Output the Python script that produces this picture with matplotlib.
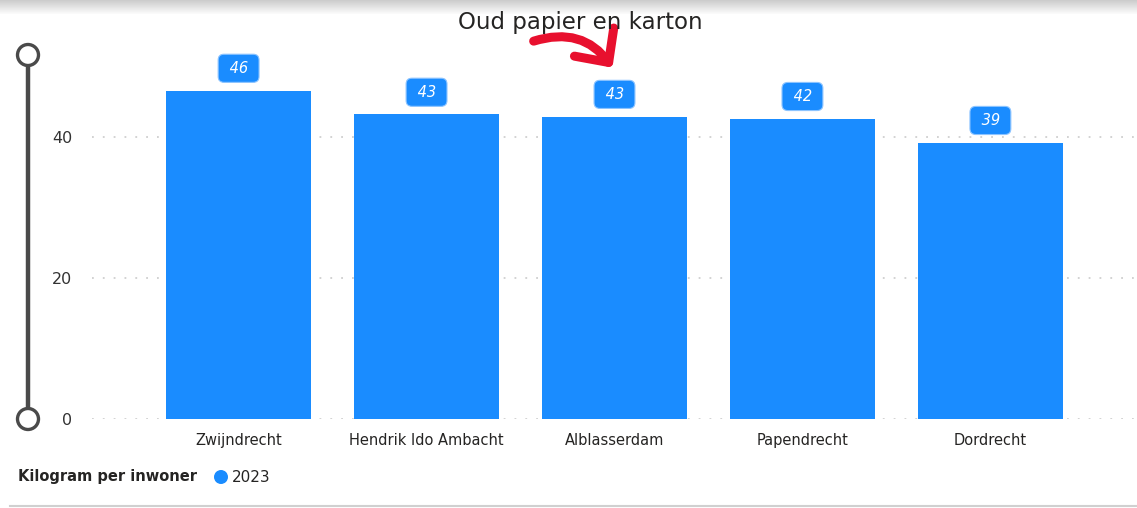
import matplotlib
matplotlib.use("Agg")
import matplotlib.pyplot as plt
from matplotlib.patches import FancyArrowPatch, Circle, Rectangle
from matplotlib.lines import Line2D

categories = ["Zwijndrecht", "Hendrik Ido Ambacht", "Alblasserdam", "Papendrecht", "Dordrecht"]
values = [46.6, 43.2, 42.9, 42.6, 39.2]
value_labels = ["46", "43", "43", "42", "39"]
yticks = [0, 20, 40]
title = "Oud papier en karton"
legend_title = "Kilogram per inwoner"
series_name = "2023"

BLUE = "#1a8cff"
W, H = 1137, 508
plt.rcParams['font.family'] = ['DejaVu Sans']

fig = plt.figure(figsize=(W / 100, H / 100), dpi=100)
fig.patch.set_facecolor("white")

def fx(x):
    return x / W

def fy(y):
    return 1 - y / H

# top shadow band
for i in range(14):
    g = 0.80 + 0.014 * i
    fig.add_artist(Rectangle((0, fy(i + 1)), 1, 1 / H, transform=fig.transFigure,
                             facecolor=(g, g, g), edgecolor="none", zorder=0))
fig.add_artist(Line2D([fx(10), 1], [fy(506), fy(506)], transform=fig.transFigure,
                      color="#d0d0d0", lw=1.5))

ax = fig.add_axes([fx(92), fy(419), fx(1045), (419 - 59.5) / H])
x = list(range(len(categories)))
ax.bar(x, values, width=0.77, color=BLUE, zorder=2)
ax.set_xlim(-0.78, 4.78)
ax.set_ylim(0, 51)
ax.set_yticks(yticks)
ax.set_yticklabels([str(t) for t in yticks], fontsize=11.5, color="#333333")
ax.set_xticks(x)
ax.set_xticklabels(categories, fontsize=10.5, color="#252423")
ax.tick_params(axis="x", length=0, pad=10)
ax.tick_params(axis="y", length=0, pad=14)
for s in ax.spines.values():
    s.set_visible(False)
for t in yticks:
    ax.axhline(t, color="#cfcfcf", lw=1.3, ls=(0, (1, 5)), zorder=1)

for xi, v, lab in zip(x, values, value_labels):
    ax.annotate(" " + lab + " ", (xi, v), xytext=(0, 16), textcoords="offset points",
                ha="center", va="center", fontsize=10.5, color="white", style="italic",
                bbox=dict(boxstyle="round,pad=0.45,rounding_size=0.4", fc=BLUE,
                          ec="#8cc4ff", lw=0.8), zorder=3)

fig.text(fx(580), fy(22), title, ha="center", va="center", fontsize=16.5, color="#252423")

# overlay axes in pixel coords
ax_sl = fig.add_axes([0, 0, 1, 1], facecolor="none")
ax_sl.set_xlim(0, W)
ax_sl.set_ylim(H, 0)
ax_sl.axis("off")
ax_sl.plot([28, 28], [55, 419], color="#4a4a4a", lw=3.2, zorder=5, solid_capstyle="butt")
for yy in (55, 419):
    ax_sl.add_patch(Circle((28, yy), 10.5, facecolor="white", edgecolor="#4a4a4a", lw=2.4, zorder=6))

# red arrow
arr = FancyArrowPatch((531, 42), (614, 70), connectionstyle="arc3,rad=-0.38",
                      arrowstyle="->,head_length=3.0,head_width=2.9", color="#e8102e",
                      lw=6.5, mutation_scale=6, capstyle="round", joinstyle="round", zorder=7)
ax_sl.add_patch(arr)

# legend
fig.text(fx(18), fy(477), legend_title, ha="left", va="center", fontsize=10.5,
         fontweight="bold", color="#252423")
ax_sl.add_patch(Circle((221, 477), 7, facecolor=BLUE, edgecolor="none"))
fig.text(fx(232), fy(477), series_name, ha="left", va="center", fontsize=11, color="#252423")

fig.savefig("out.png", dpi=100)
